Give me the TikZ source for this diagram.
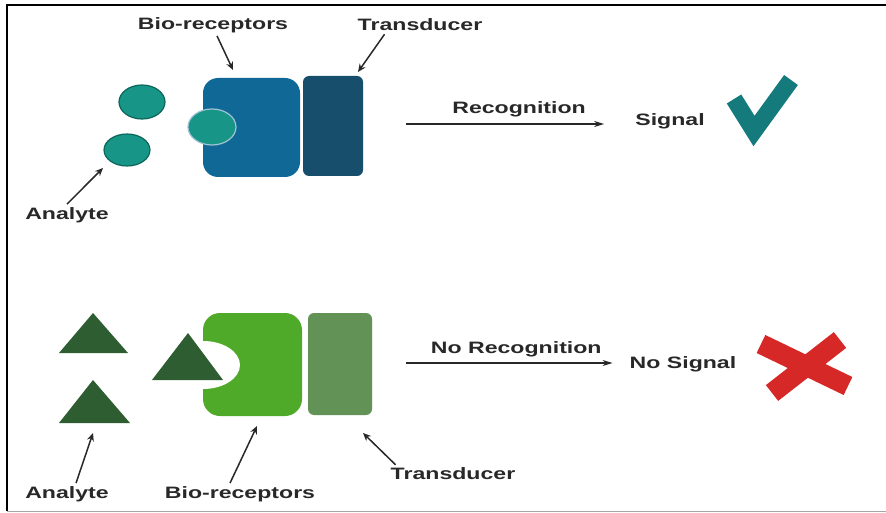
\documentclass[tikz,border=0pt]{standalone}
\usepackage{fontspec}
\newfontfamily\lblfont{Liberation Sans}[FakeStretch=1.4]
\usetikzlibrary{arrows.meta,positioning,shapes.geometric,calc}

\definecolor{anaTeal}{RGB}{23,150,135}
\definecolor{anaEdge}{RGB}{12,102,92}
\definecolor{recBlue}{RGB}{16,104,150}
\definecolor{trdNavy}{RGB}{22,78,108}
\definecolor{chkTeal}{RGB}{20,122,124}
\definecolor{triGreen}{RGB}{45,93,48}
\definecolor{recGreen}{RGB}{78,170,40}
\definecolor{trdGreen}{RGB}{98,146,86}
\definecolor{xRed}{RGB}{214,40,38}
\definecolor{txtGray}{RGB}{40,40,40}

\begin{document}
\begin{tikzpicture}[
    x=1pt, y=-1pt,
    lbl/.style={text=txtGray, inner sep=3pt, font=\lblfont\bfseries\fontsize{16.5}{18}\selectfont},
    body/.style={rectangle, minimum width=#1, inner sep=0pt},
    analyte/.style={ellipse, draw=anaEdge, line width=1.2pt, fill=anaTeal, inner sep=0pt},
    ptr/.style={-{Stealth[length=8pt,width=7pt]}, line width=1.5pt, draw=txtGray},
    flow/.style={-{Stealth[length=10pt,width=6pt]}, line width=1.3pt, draw=txtGray}
]
\useasboundingbox (0,0) rectangle (886,513);
% frame
\draw[line width=2pt] (7,511) -- (7,5) -- (886,5);
\draw[gray!70, line width=1pt] (7,511) -- (886,511);

% ---- recognition (top) ----
\node[body=97pt, minimum height=99pt, rounded corners=15pt, fill=recBlue] (recA) at (251.5,127.5) {};
\node[body=60pt, minimum height=100pt, rounded corners=6pt, fill=trdNavy] (trdA) at (333,126) {};
\node[analyte, minimum width=46pt, minimum height=34pt] (anaA1) at (142,102) {};
\node[analyte, minimum width=46pt, minimum height=32pt] (anaA2) at (127,150) {};
\node[analyte, minimum width=48pt, minimum height=36pt, draw=recBlue!40] (anaA3) at (212,127) {};

\node[lbl] (lblBioA) at (213,25) {Bio-receptors};
\node[lbl] (lblTransA) at (420,25) {Transducer};
\node[lbl] (lblAnaA) at (67,215) {Analyte};
\node[lbl] (sigA) at (670,121) {Signal};

\coordinate (tipBioA) at (233,70);
\coordinate (tipTransA) at (358,72);
\coordinate (tipAnaA) at (103,168);
\coordinate (arrA) at (406,124);

\draw[ptr] ([xshift=4pt]lblBioA.south) -- (tipBioA);
\draw[ptr] ([xshift=30pt]lblTransA.south west) -- (tipTransA);
\draw[ptr] (lblAnaA.north) -- (tipAnaA);
\draw[flow, shorten >=28pt] (arrA) -- node[above=3pt, lbl] {Recognition} (arrA -| sigA.west);

% check mark
\draw[chkTeal, line width=17pt, line join=miter] (734,99) -- (754,131) -- (791,80);

% ---- no recognition (bottom) ----
\node[body=99pt, minimum height=103pt, rounded corners=17pt, fill=recGreen] (recB) at (252.5,364.5) {};
\fill[white] (203,365) ellipse [x radius=37, y radius=24];
\node[body=64pt, minimum height=102pt, rounded corners=6pt, fill=trdGreen] (trdB) at (340,364) {};
\fill[triGreen] (93,313) -- (128,353) -- (59,353) -- cycle;
\fill[triGreen] (93,380) -- (130,423) -- (59,423) -- cycle;
\fill[triGreen] (188,333) -- (223,380) -- (152,380) -- cycle;

\node[lbl] (lblAnaB) at (67,494) {Analyte};
\node[lbl] (lblBioB) at (240,494) {Bio-receptors};
\node[lbl] (lblTransB) at (453,474) {Transducer};
\node[lbl] (sigB) at (683,364) {No Signal};

\coordinate (tipAnaB) at (93,433);
\coordinate (tipBioB) at (257,426);
\coordinate (tipTransB) at (363,433);
\coordinate (arrB) at (406,363);

\draw[ptr] ([xshift=9pt]lblAnaB.north) -- (tipAnaB);
\draw[ptr] ([xshift=-10pt]lblBioB.north) -- (tipBioB);
\draw[ptr] ([xshift=8pt]lblTransB.north west) -- (tipTransB);
\draw[flow, shorten >=14pt] (arrB) -- node[above=2pt, lbl] {No Recognition} (arrB -| sigB.west);

% cross
\draw[xRed, line width=20pt] (761,344) -- (848,386);
\draw[xRed, line width=20pt] (772,393) -- (840,340);
\end{tikzpicture}
\end{document}
